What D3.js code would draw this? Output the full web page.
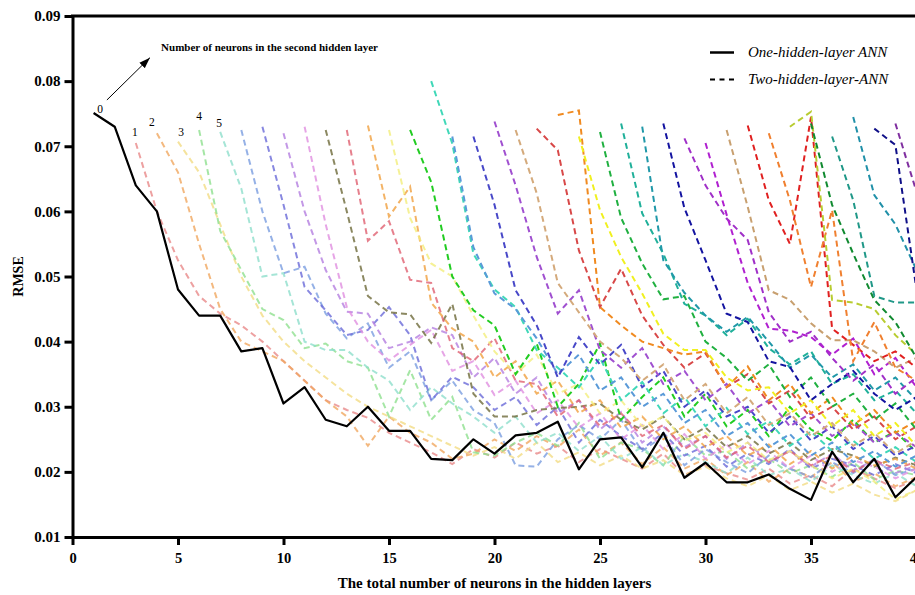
<!DOCTYPE html>
<html>
<head>
<meta charset="utf-8">
<script src="https://cdn.jsdelivr.net/npm/d3@7/dist/d3.min.js"></script>
<style>
html,body{margin:0;padding:0;background:#fff;}
svg{display:block;}
</style>
</head>
<body>
<svg id="chart" width="915" height="595"></svg>
<script>
// ---------------- DATA ----------------
const oneLayerX = d3.range(1, 41);
const oneLayerRMSE = [.0751,.073,.064,.060,.048,.044,.044,.0385,.039,.0305,
  .033,.028,.027,.030,.0263,.0263,.022,.0218,.025,.0228,
  .0256,.026,.0277,.0204,.025,.0253,.0207,.026,.0191,.0214,
  .0184,.0184,.0196,.0174,.0157,.0231,.0184,.022,.0161,.0192];

// neurons in second hidden layer (1..37) -> first total-neuron value of each curve
const secondLayerNeurons = d3.range(1, 38);
const twoLayerStartX = [3,4,5,6,7,8,9,10,11,12,13,14,15,16,17,18,19,20,21,22,23,24,25,26,27,28,29,30,31,32,33,34,35,36,37,38,39];

const twoLayerRMSE = [
  [.0705,.060,.0525,.047,.0443,.0425,.040,.037,.034,.031,.0295,.0283,.026,.0245,.023,.0212,.0235,.0222,.0245,.0228,.024,.0215,.0235,.022,.0205,.0228,.0195,.021,.0198,.0188,.0205,.0182,.0195,.0178,.0205,.019,.0175,.0188,.018],
  [.072,.066,.055,.045,.040,.0385,.037,.034,.031,.0285,.024,.0285,.026,.0245,.022,.0228,.025,.0232,.0255,.0238,.0265,.0225,.0245,.0212,.0238,.0205,.022,.0195,.0215,.0185,.0205,.0192,.0215,.0185,.0198,.0178,.0192,.0185],
  [.0707,.066,.058,.050,.044,.040,.037,.0345,.032,.030,.0285,.027,.0255,.024,.0225,.0238,.022,.0245,.0215,.023,.021,.0225,.0205,.0218,.0195,.0208,.019,.0178,.0195,.0172,.0185,.0168,.0182,.0165,.0155,.0172,.016],
  [.0725,.057,.051,.045,.0433,.039,.0397,.037,.036,.0285,.0356,.028,.0315,.023,.0225,.0245,.026,.024,.0275,.022,.0245,.0235,.021,.0255,.0225,.0232,.0205,.022,.0198,.021,.0192,.0215,.0188,.0202,.0195,.0185],
  [.0722,.0635,.050,.0505,.040,.0387,.0387,.036,.034,.0295,.033,.0305,.0285,.026,.0285,.0245,.026,.0232,.0255,.022,.0238,.021,.0228,.0215,.0198,.0222,.0195,.0205,.0185,.021,.0195,.0182,.0198,.0178,.019],
  [.0725,.060,.0505,.0515,.0443,.0405,.0428,.036,.0385,.031,.034,.0295,.0275,.021,.0208,.025,.0272,.025,.028,.0232,.0255,.021,.0235,.0215,.0198,.0225,.0205,.0192,.0215,.0198,.022,.0195,.0205,.019],
  [.073,.061,.0484,.0448,.041,.0418,.0453,.041,.031,.0346,.033,.0295,.0315,.0272,.030,.0245,.028,.0255,.0235,.026,.0225,.024,.0208,.0228,.0212,.0235,.0205,.022,.021,.0195,.0212,.0198,.0205],
  [.072,.060,.051,.0446,.0443,.039,.040,.0422,.041,.0345,.0375,.032,.0345,.029,.031,.0265,.0292,.0245,.027,.0238,.0255,.022,.0245,.0215,.0232,.0208,.0228,.0202,.0218,.0198,.021,.0195],
  [.073,.058,.0453,.040,.0371,.0395,.0418,.0355,.037,.0318,.034,.029,.031,.0268,.029,.025,.0272,.0235,.0258,.022,.0242,.0212,.0232,.0205,.0225,.020,.0218,.0208,.019,.0205,.0198],
  [.0725,.060,.047,.0445,.0442,.0398,.0458,.032,.0285,.0285,.0295,.0298,.030,.0305,.028,.0265,.0285,.025,.0268,.0238,.0255,.0228,.0245,.0218,.0235,.0225,.0208,.0222,.021,.0215],
  [.0725,.0555,.0585,.0495,.049,.039,.037,.0405,.034,.0335,.0285,.031,.027,.029,.0255,.0272,.0235,.0255,.0222,.024,.0215,.0232,.021,.0225,.020,.0218,.0205,.0215,.020],
  [.0732,.0592,.0638,.046,.042,.040,.0345,.037,.032,.034,.029,.031,.0268,.0285,.025,.027,.0238,.0255,.0225,.0242,.0212,.0232,.0205,.0225,.021,.022,.0205,.021],
  [.0725,.059,.052,.050,.044,.0385,.035,.038,.032,.0335,.029,.031,.027,.0285,.0248,.026,.023,.0245,.0218,.0232,.021,.019,.0205,.0185,.0158,.0172,.018],
  [.0725,.0645,.050,.0448,.0425,.035,.0397,.030,.0335,.0397,.028,.0315,.0345,.0285,.032,.027,.0295,.0255,.030,.0265,.0248,.028,.0245,.0262,.023,.0245],
  [.080,.0704,.0535,.048,.0453,.0387,.036,.033,.0375,.031,.0338,.029,.0315,.027,.0298,.0258,.0278,.024,.0262,.0232,.0248,.022,.0238,.0215,.0225],
  [.0715,.0545,.0474,.045,.0405,.035,.038,.0325,.0345,.030,.032,.0275,.0295,.0255,.0275,.0238,.0258,.0225,.0245,.0215,.0232,.0208,.0225,.021],
  [.0715,.061,.0479,.0425,.0345,.0407,.0365,.0395,.033,.0355,.030,.0325,.0285,.030,.026,.0285,.0248,.027,.0235,.0255,.0225,.024,.0232],
  [.0738,.064,.053,.0443,.0479,.0387,.036,.039,.0335,.0355,.031,.0335,.029,.031,.027,.029,.0255,.0275,.0245,.026,.0238,.025],
  [.0725,.0628,.049,.0445,.040,.0375,.034,.0365,.031,.0335,.029,.0315,.0272,.029,.0255,.0275,.024,.026,.0228,.0248,.0235],
  [.0727,.0694,.054,.0453,.0512,.044,.0395,.036,.0382,.033,.035,.0305,.0325,.0282,.030,.0265,.0285,.025,.027,.0258],
  [.0748,.0755,.0453,.0425,.040,.039,.038,.0385,.033,.0362,.031,.0335,.029,.0315,.0272,.0295,.026,.0278,.027],
  [.0715,.0602,.053,.0474,.0412,.0387,.0387,.0345,.0325,.033,.029,.031,.027,.0295,.0255,.0275,.024,.026],
  [.0722,.059,.052,.0465,.047,.040,.0375,.034,.0365,.0315,.0345,.030,.032,.028,.0305,.0265,.0285],
  [.0735,.0597,.0535,.0458,.044,.041,.0435,.039,.0365,.0385,.0335,.035,.031,.0325,.029,.031],
  [.073,.0525,.0475,.044,.0415,.0438,.040,.036,.038,.0345,.0365,.0325,.0345,.031,.0325],
  [.0735,.0605,.0525,.0443,.043,.037,.0361,.031,.0335,.0355,.032,.0295,.0315,.030],
  [.0712,.064,.0589,.0556,.0445,.040,.0415,.0375,.034,.0365,.032,.0345,.031],
  [.0705,.0595,.049,.042,.0417,.0407,.038,.0405,.035,.0375,.033,.035],
  [.0725,.0607,.0479,.0464,.0428,.0402,.0402,.0385,.036,.0375,.035],
  [.0732,.0617,.055,.0745,.042,.0395,.037,.0385,.036,.037],
  [.072,.0617,.0484,.0602,.037,.043,.036,.034,.035],
  [.073,.0753,.0464,.046,.045,.041,.038,.036],
  [.0735,.061,.0535,.0464,.043,.0375,.035],
  [.0715,.0617,.047,.046,.046,.046],
  [.0745,.0625,.058,.051,.045],
  [.0727,.0702,.048,.040],
  [.0735,.063,.056]
];

const twoLayerColors = ["#e88a8a","#f0a860","#f2dc84","#8ee08e","#8edfcc","#7a9ee0","#6a6ad8","#b47ee0","#e08ee0","#6e6a3a",
  "#e06070","#f0a040","#f3ee7c","#22cc22","#40d8b8","#5a9ad8","#4848c8","#a050d0","#d4aa7c","#d84848",
  "#f08a20","#f0f020","#20b040","#20b09a","#2098a8","#1414a0","#a030c8","#b020d0","#c8a070","#e02020",
  "#f08030","#b8cc30","#108a30","#209888","#2090a8","#101088","#8030a0"];

const xTicks = [0,5,10,15,20,25,30,35,40];
const yTicks = [0.01,0.02,0.03,0.04,0.05,0.06,0.07,0.08,0.09];
const legendLabels = ["One-hidden-layer ANN","Two-hidden-layer-ANN"];
const curveLabels = ["0","1","2","3","4","5"];
const annotationText = "Number of neurons in the second hidden layer";
const xTitle = "The total number of neurons in the hidden layers";
const yTitle = "RMSE";

// ---------------- LAYOUT ----------------
const serif = '"Liberation Serif","Times New Roman",serif';
const svg = d3.select("#chart");
const x = d3.scaleLinear().domain([0,40]).range([72.5,916.5]);
const y = d3.scaleLinear().domain([0.01,0.09]).range([537,16]);

const defs = svg.append("defs");
defs.append("clipPath").attr("id","plotClip").append("rect")
  .attr("x", x(0)).attr("y", y(0.09))
  .attr("width", x(40)-x(0)).attr("height", y(0.01)-y(0.09));
defs.append("marker").attr("id","arrow").attr("viewBox","0 0 10 7")
  .attr("refX",10).attr("refY",3.5).attr("markerUnits","userSpaceOnUse")
  .attr("markerWidth",11).attr("markerHeight",8).attr("orient","auto")
  .append("path").attr("d","M0,0L10,3.5L0,7Z").attr("fill","#000");

const line = d3.line().x(d=>x(d[0])).y(d=>y(d[1]));
const plot = svg.append("g").attr("clip-path","url(#plotClip)");

twoLayerRMSE.forEach((vals,i)=>{
  const pts = vals.map((v,j)=>[twoLayerStartX[i]+j, v]);
  plot.append("path").attr("d", line(pts))
    .attr("fill","none").attr("stroke", twoLayerColors[i])
    .attr("stroke-width", 2).attr("stroke-dasharray","6,4")
    .attr("stroke-opacity", i < 13 ? 0.8 : 1);
});
plot.append("path").attr("d", line(oneLayerX.map((v,i)=>[v, oneLayerRMSE[i]])))
  .attr("fill","none").attr("stroke","#000").attr("stroke-width",2.2)
  .attr("stroke-linejoin","round");

// axes
const yAxis = d3.axisLeft(y).tickValues(yTicks).tickFormat(d3.format(".2f"))
  .tickSize(8).tickSizeOuter(0).tickPadding(4);
const gy = svg.append("g").attr("transform",`translate(${x(0)},0)`).call(yAxis)
  .attr("font-family", serif).attr("font-size", 15).attr("font-weight","bold");
gy.select(".domain").attr("stroke-width",3);
gy.selectAll(".tick line").attr("stroke-width",3);
gy.selectAll(".tick text").attr("fill","#000");

const xAxis = d3.axisBottom(x).tickValues(xTicks).tickFormat(d3.format("d"))
  .tickSize(8).tickSizeOuter(0).tickPadding(8);
const gx = svg.append("g").attr("transform",`translate(0,${y(0.01)})`).call(xAxis)
  .attr("font-family", serif).attr("font-size", 14.5).attr("font-weight","bold");
gx.select(".domain").attr("stroke-width",3);
gx.selectAll(".tick line").attr("stroke-width",3);
gx.selectAll(".tick text").attr("fill","#000");

// frame (top and right)
svg.append("line").attr("x1", x(0)-1.5).attr("x2", x(40)).attr("y1", y(0.09)).attr("y2", y(0.09))
  .attr("stroke","#000").attr("stroke-width",3);
svg.append("line").attr("x1", x(40)+1.5).attr("x2", x(40)+1.5).attr("y1", y(0.09)).attr("y2", y(0.01))
  .attr("stroke","#000").attr("stroke-width",3);

// titles
svg.append("text").attr("x", (x(0)+x(40))/2).attr("y", 588)
  .attr("text-anchor","middle").attr("font-family",serif).attr("font-weight","bold")
  .attr("font-size",15).text(xTitle);
svg.append("text").attr("transform",`translate(23,${(y(0.01)+y(0.09))/2}) rotate(-90)`)
  .attr("text-anchor","middle").attr("font-family",serif).attr("font-weight","bold")
  .attr("font-size",14).text(yTitle);

// curve labels (0 = one-hidden-layer curve, 1..5 = two-layer curves)
const labelOffsets = [[6.5,0],[-1,-7],[-5,-7.5],[3,-5.5],[0,-9.5],[-1,-5]];
curveLabels.forEach((t,i)=>{
  const px = i===0 ? x(oneLayerX[0]) : x(twoLayerStartX[i-1]);
  const py = i===0 ? y(oneLayerRMSE[0]) : y(twoLayerRMSE[i-1][0]);
  svg.append("text").attr("x", px+labelOffsets[i][0]).attr("y", py+labelOffsets[i][1])
    .attr("text-anchor","middle").attr("font-family",serif).attr("font-size",11.5)
    .attr("fill","#000").text(t);
});

// annotation arrow + text
const arrowFrom = [1.63, 0.0771], arrowTo = [3.67, 0.0836], notePos = [4.2, 0.0846];
svg.append("line").attr("x1", x(arrowFrom[0])).attr("y1", y(arrowFrom[1]))
  .attr("x2", x(arrowTo[0])).attr("y2", y(arrowTo[1]))
  .attr("stroke","#000").attr("stroke-width",1).attr("marker-end","url(#arrow)");
svg.append("text").attr("x", x(notePos[0])).attr("y", y(notePos[1]))
  .attr("font-family",serif).attr("font-weight","bold").attr("font-size",11)
  .text(annotationText);

// legend
const lg = svg.append("g").attr("transform","translate(710,0)");
lg.append("line").attr("x1",0).attr("x2",24).attr("y1",52.5).attr("y2",52.5)
  .attr("stroke","#000").attr("stroke-width",2.5);
lg.append("line").attr("x1",0).attr("x2",24).attr("y1",79.5).attr("y2",79.5)
  .attr("stroke","#000").attr("stroke-width",2).attr("stroke-dasharray","5,4.5");
legendLabels.forEach((t,i)=>{
  lg.append("text").attr("x",38).attr("y", 57 + i*27)
    .attr("font-family",serif).attr("font-style","italic").attr("font-size",15)
    .text(t);
});
</script>
</body>
</html>
